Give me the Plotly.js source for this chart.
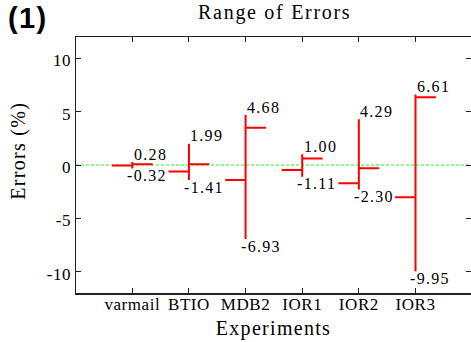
<!DOCTYPE html>
<html><head><meta charset="utf-8">
<script src="https://cdn.plot.ly/plotly-3.0.1.min.js"></script>
<style>
html,body{margin:0;padding:0;overflow:hidden;background:#fff;}
#chart{width:471px;height:342px;}
.gtitle{letter-spacing:1.7px;}
.xtitle{letter-spacing:1.3px;}
.xtick text,.ytick text{letter-spacing:0.55px;}
.annotation-text{letter-spacing:1.3px;}
</style></head><body><div id="chart"></div>
<script>
const categories = ['varmail','BTIO','MDB2','IOR1','IOR2','IOR3'];
const highValues = [0.28, 1.99, 4.68, 1.00, 4.29, 6.61];
const lowValues = [-0.32, -1.41, -6.93, -1.11, -2.30, -9.95];
const openValues = [-0.04, -0.60, -1.40, -0.47, -1.72, -3.03];
const closeValues = [0.07, 0.08, 3.50, 0.62, -0.31, 6.34];
const highLabels = ['0.28','1.99','4.68','1.00','4.29','6.61'];
const lowLabels = ['-0.32','-1.41','-6.93','-1.11','-2.30','-9.95'];
const yTickValues = [-10,-5,0,5,10];
const yTickLabels = ['-10','-5','0','5','10'];

const serif = '"Liberation Serif", "Times New Roman", Times, serif';
const red = '#ff0000';
const axisColor = '#222';

const trace = {
  type: 'ohlc',
  x: categories,
  open: openValues,
  high: highValues,
  low: lowValues,
  close: closeValues,
  increasing: {line: {color: red, width: 2}},
  decreasing: {line: {color: red, width: 2}},
  tickwidth: 0.36,
  hoverinfo: 'skip',
  showlegend: false
};

const annotations = [];
categories.forEach((c, i) => {
  annotations.push({
    x: c, y: highValues[i], xref: 'x', yref: 'y',
    text: highLabels[i], showarrow: false,
    xanchor: 'left', yanchor: 'bottom', xshift: -0.5, yshift: -2.5,
    font: {family: serif, size: 16, color: '#000'}
  });
  annotations.push({
    x: c, y: lowValues[i], xref: 'x', yref: 'y',
    text: lowLabels[i], showarrow: false,
    xanchor: 'left', yanchor: 'top', xshift: -7, yshift: 3.4,
    font: {family: serif, size: 16, color: '#000'}
  });
});
annotations.push({
  text: '(1)', xref: 'paper', yref: 'paper', x: (6 - 76) / 395, y: 1 + (37 - 17.5) / 256,
  xanchor: 'left', yanchor: 'middle', showarrow: false,
  font: {family: '"Liberation Sans", Arial, sans-serif', size: 29, color: '#000', weight: 'bold'}
});
annotations.push({
  text: 'Errors (%)', xref: 'paper', yref: 'paper', x: (19 - 76) / 395, y: (293 - 150.8) / 256,
  xanchor: 'center', yanchor: 'middle', textangle: -90, showarrow: false,
  font: {family: serif, size: 20, color: '#000'}
});

const tickStyle = {ticks: 'inside', ticklen: 5, tickcolor: axisColor, tickwidth: 1};

const layout = {
  width: 471, height: 342,
  margin: {l: 76, r: 0, t: 37, b: 49},
  paper_bgcolor: '#fff', plot_bgcolor: '#fff',
  font: {family: serif},
  title: {text: 'Range of Errors', x: 274.7 / 471, xanchor: 'center', y: 1 - 12 / 342, yanchor: 'middle',
          font: {family: serif, size: 20, color: '#000'}},
  xaxis: Object.assign({
    type: 'category', range: [-0.994, 5.98], rangeslider: {visible: false},
    showline: true, linecolor: axisColor, linewidth: 1.5, mirror: 'ticks',
    showgrid: false, zeroline: false, fixedrange: true,
    tickfont: {family: serif, size: 17, color: '#000'},
    ticklabelstandoff: -5,
    title: {text: 'Experiments', font: {family: serif, size: 20, color: '#000'}, standoff: 8}
  }, tickStyle),
  yaxis: Object.assign({
    range: [-12, 12], tickvals: yTickValues, ticktext: yTickLabels,
    showline: true, linecolor: axisColor, linewidth: 1.5, mirror: false,
    showgrid: false, zeroline: false, fixedrange: true,
    tickfont: {family: serif, size: 17, color: '#000'},
    ticklabelstandoff: 4.5, ticklabelshift: 2
  }, tickStyle),
  yaxis2: Object.assign({
    overlaying: 'y', side: 'right',
    range: [-12, 12], tickvals: yTickValues, showticklabels: false,
    showline: false, showgrid: false, zeroline: false, fixedrange: true
  }, tickStyle),
  shapes: [{
    type: 'line', xref: 'paper', yref: 'y', x0: 0, x1: 1, y0: 0, y1: 0,
    line: {color: '#22ee22', width: 1, dash: '3px,2px'}, layer: 'below'
  }],
  annotations: annotations
};

const rightTicks = {
  type: 'scatter', x: [categories[0]], y: [0], yaxis: 'y2',
  mode: 'markers', marker: {opacity: 0}, hoverinfo: 'skip', showlegend: false
};

Plotly.newPlot('chart', [trace, rightTicks], layout, {displayModeBar: false, staticPlot: true});
</script></body></html>
